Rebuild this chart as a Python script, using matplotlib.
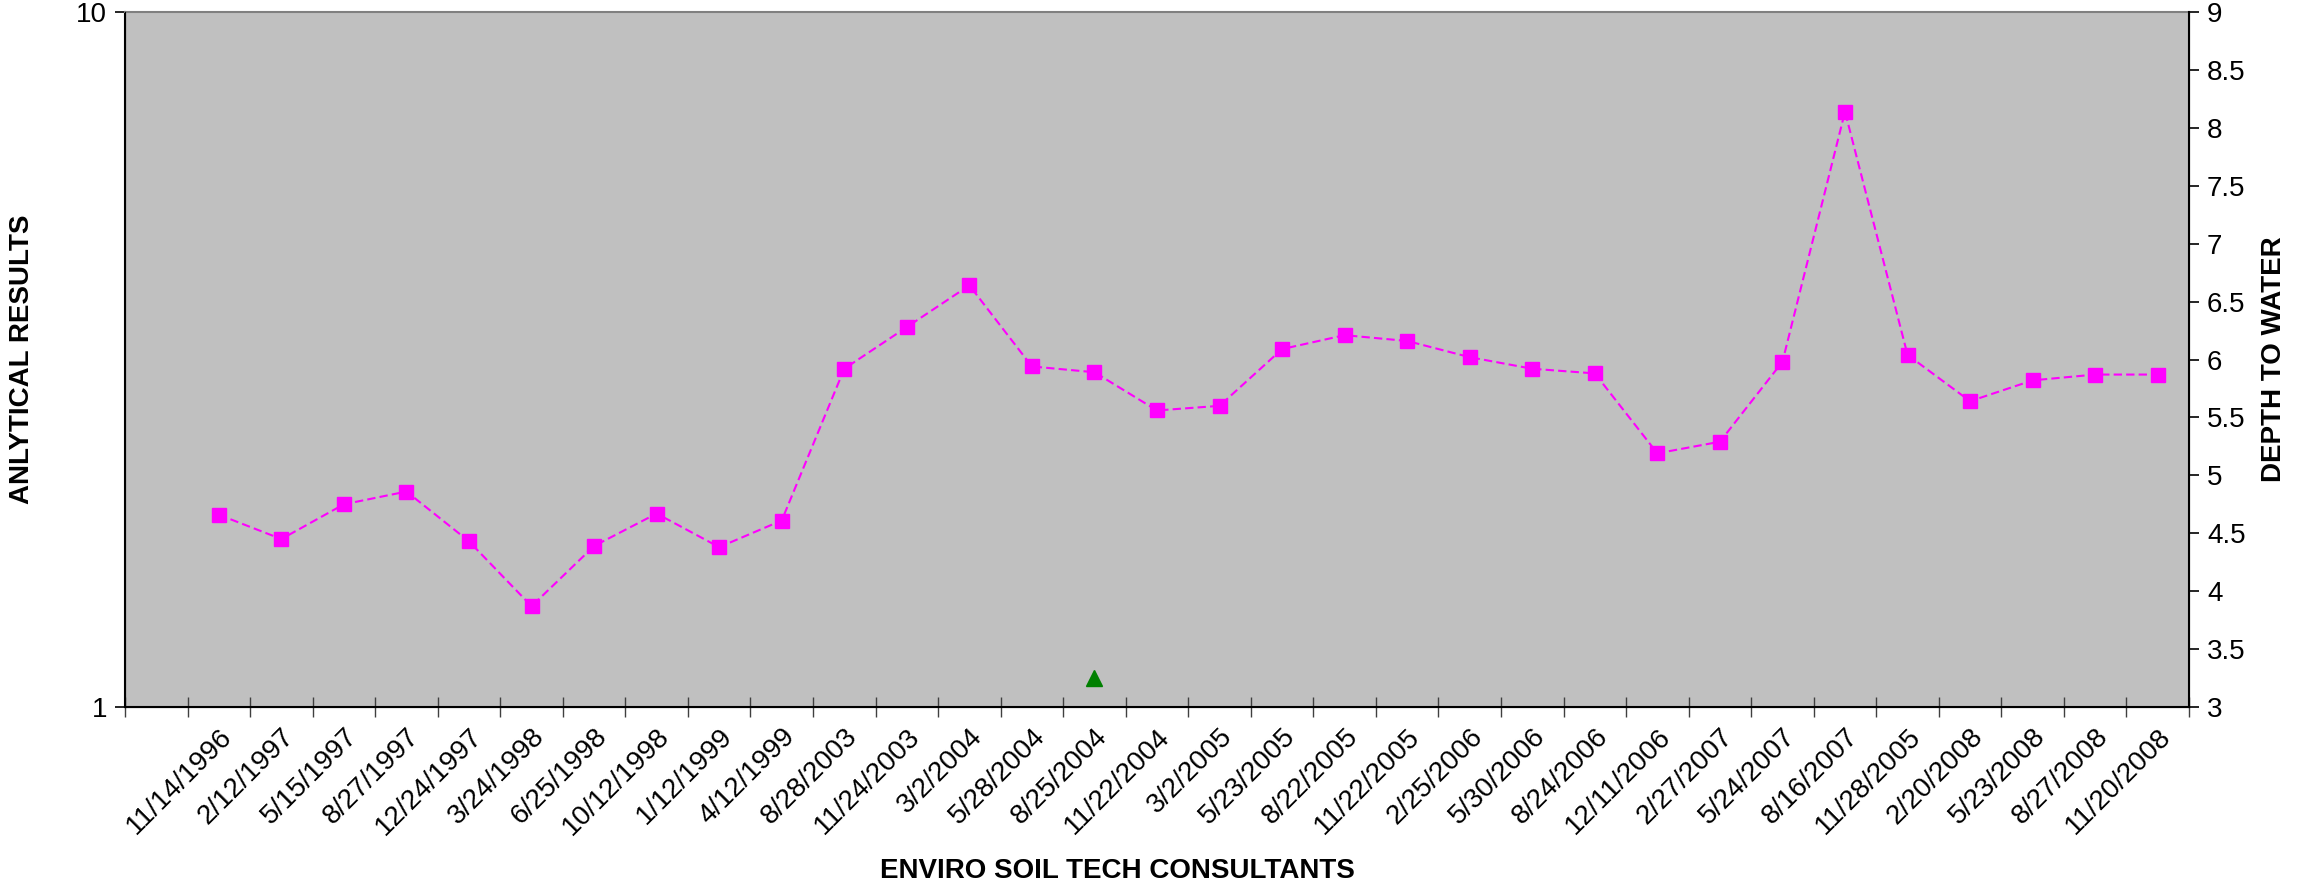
"""Depth to water and analytical results chart, recreated with matplotlib."""

import matplotlib

matplotlib.use("Agg")
import matplotlib.pyplot as plt
from matplotlib.ticker import NullLocator

plt.rcParams["font.family"] = ["Liberation Sans", "DejaVu Sans"]

# sampling dates (first slot of the category axis is blank)
DATES = [
    "", "11/14/1996", "2/12/1997", "5/15/1997", "8/27/1997", "12/24/1997",
    "3/24/1998", "6/25/1998", "10/12/1998", "1/12/1999", "4/12/1999",
    "8/28/2003", "11/24/2003", "3/2/2004", "5/28/2004", "8/25/2004",
    "11/22/2004", "3/2/2005", "5/23/2005", "8/22/2005", "11/22/2005",
    "2/25/2006", "5/30/2006", "8/24/2006", "12/11/2006", "2/27/2007",
    "5/24/2007", "8/16/2007", "11/28/2005", "2/20/2008", "5/23/2008",
    "8/27/2008", "11/20/2008",
]

# depth to water (right axis), one value per dated category
DEPTH_TO_WATER = [
    4.66, 4.45, 4.75, 4.86, 4.43, 3.87, 4.39, 4.67, 4.38, 4.61,
    5.92, 6.28, 6.64, 5.94, 5.89, 5.56, 5.60, 6.09, 6.21, 6.16,
    6.02, 5.92, 5.88, 5.19, 5.29, 5.98, 8.14, 6.04, 5.64, 5.82,
    5.87, 5.87,
]

# analytical result (left, log axis)
RESULT_DATE = "8/25/2004"
RESULT_VALUE = 1.1

LEFT_TICKS = [1, 10]
RIGHT_TICKS = [3, 3.5, 4, 4.5, 5, 5.5, 6, 6.5, 7, 7.5, 8, 8.5, 9]

FONT_SIZE = 20


def main() -> None:
    fig = plt.figure(figsize=(23.04, 8.84), dpi=100)
    fig.subplots_adjust(left=125 / 2304, right=2189 / 2304,
                        top=1 - 12 / 884, bottom=1 - 707 / 884)
    ax = fig.add_subplot(111)
    ax.set_facecolor("#C0C0C0")

    n = len(DATES)
    centers = list(range(n))
    bounds = [c - 0.5 for c in centers] + [n - 0.5]

    # left log axis
    ax.set_yscale("log")
    ax.set_ylim(1, 10)
    ax.set_yticks(LEFT_TICKS)
    ax.set_yticklabels([str(v) for v in LEFT_TICKS], fontsize=FONT_SIZE)
    ax.yaxis.set_minor_locator(NullLocator())
    ax.tick_params(axis="y", direction="out", length=7, width=1.2, pad=6)

    # category x axis: ticks at boundaries, labels at centers
    ax.set_xlim(-0.5, n - 0.5)
    ax.set_xticks(bounds)
    ax.set_xticklabels([""] * len(bounds))
    ax.set_xticks(centers, minor=True)
    ax.set_xticklabels(DATES, minor=True, rotation=45, ha="right",
                       va="top", rotation_mode="anchor", fontsize=FONT_SIZE)
    ax.tick_params(axis="x", which="major", direction="inout", length=14,
                   width=1.0, color="#404040")
    ax.tick_params(axis="x", which="minor", length=0, pad=12)

    for side in ("left", "bottom"):
        ax.spines[side].set_linewidth(1.5)
    ax.spines["top"].set_color("#808080")
    ax.spines["top"].set_linewidth(1.5)

    rx = DATES.index(RESULT_DATE)
    ax.plot([rx], [RESULT_VALUE], linestyle="none", marker="^",
            markersize=11, color="#008000")

    # right linear axis
    ax2 = ax.twinx()
    ax2.set_ylim(3, 9)
    ax2.set_yticks(RIGHT_TICKS)
    ax2.set_yticklabels([f"{v:g}" for v in RIGHT_TICKS], fontsize=FONT_SIZE)
    ax2.tick_params(axis="y", direction="out", length=7, width=1.2, pad=6)
    ax2.spines["right"].set_linewidth(1.5)
    ax2.spines["top"].set_visible(False)

    ax2.plot(centers[1:], DEPTH_TO_WATER, color="#FF00FF", linewidth=1.5,
             dashes=(4, 2), marker="s", markersize=10.5,
             markerfacecolor="#FF00FF", markeredgecolor="#FF00FF")

    ax.set_ylabel("ANLYTICAL RESULTS", fontsize=FONT_SIZE, fontweight="bold",
                  va="center")
    ax.yaxis.set_label_coords(-0.0499, 0.5)
    ax2.set_ylabel("DEPTH TO WATER", fontsize=FONT_SIZE, fontweight="bold",
                   va="center")
    ax2.yaxis.set_label_coords(1.0412, 0.5)
    ax.set_xlabel("ENVIRO SOIL TECH CONSULTANTS", fontsize=FONT_SIZE,
                  fontweight="bold", va="center")
    ax.xaxis.set_label_coords(0.4806, -0.236)

    fig.savefig("out.png", dpi=100, facecolor="white")
    plt.close(fig)


if __name__ == "__main__":
    main()
